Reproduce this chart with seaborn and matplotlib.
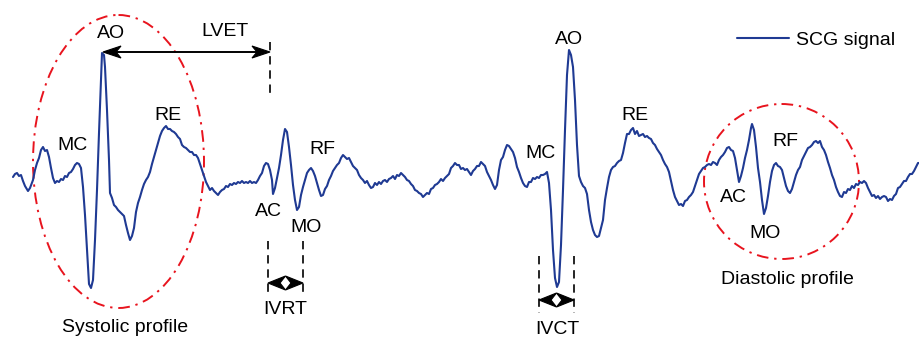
import numpy as np
import pandas as pd
import matplotlib
matplotlib.use("Agg")
import matplotlib.pyplot as plt
from matplotlib.patches import Ellipse, Polygon
import seaborn as sns

# SCG trace, horizontal position (sample) and vertical position (screen units, downward)
scg_x = [13, 15, 17, 19, 21, 23, 25, 28, 30, 33, 35, 37, 39, 41, 43, 45, 47, 49, 51, 53,
         55, 57, 59, 61, 63, 65, 67, 69, 71, 73, 75, 77, 79, 81, 83, 85, 87, 89, 91, 93,
         95, 97, 99, 101, 102, 104, 105, 107, 109, 110, 112, 114, 116, 118, 120, 122, 124, 126, 128, 130,
         132, 134, 136, 138, 140, 142, 144, 146, 148, 150, 152, 154, 156, 158, 160, 162, 164, 166, 168, 170,
         172, 174, 176, 178, 180, 182, 184, 186, 188, 190, 192, 194, 196, 198, 200, 202, 204, 206, 208, 210,
         212, 214, 216, 218, 220, 222, 224, 226, 228, 230, 232, 234, 236, 238, 240, 242, 244, 246, 248, 250,
         252, 254, 256, 258, 260, 262, 264, 266, 268, 270, 272, 273, 275, 277, 279, 281, 283, 285, 287, 289,
         291, 293, 295, 297, 299, 301, 303, 305, 307, 309, 311, 313, 315, 317, 319, 321, 323, 325, 327, 329,
         331, 333, 335, 337, 339, 341, 343, 345, 347, 349, 351, 353, 355, 357, 359, 361, 363, 365, 367, 369,
         371, 373, 375, 377, 379, 381, 383, 385, 387, 389, 391, 393, 395, 397, 399, 401, 403, 405, 407, 409,
         411, 413, 415, 417, 419, 421, 423, 425, 427, 429, 431, 433, 435, 437, 439, 441, 443, 445, 447, 449,
         451, 453, 455, 457, 459, 461, 463, 465, 467, 469, 471, 473, 475, 477, 479, 481, 483, 485, 487, 489,
         491, 493, 495, 497, 499, 501, 503, 505, 507, 509, 511, 513, 515, 517, 519, 521, 523, 525, 527, 529,
         531, 533, 535, 537, 539, 541, 543, 545, 547, 549, 551, 553, 555, 557, 559, 561, 563, 565, 567, 569,
         571, 573, 575, 577, 579, 581, 583, 585, 587, 589, 591, 593, 595, 597, 599, 601, 603, 605, 607, 609,
         611, 613, 615, 617, 619, 621, 623, 625, 627, 629, 631, 633, 635, 637, 639, 641, 643, 645, 647, 649,
         651, 653, 655, 657, 659, 661, 663, 665, 667, 669, 671, 673, 675, 677, 679, 681, 683, 685, 687, 689,
         691, 693, 695, 697, 699, 701, 703, 705, 707, 709, 711, 713, 715, 717, 719, 721, 723, 725, 727, 729,
         731, 733, 735, 737, 739, 741, 743, 745, 747, 749, 751, 752, 754, 756, 758, 760, 762, 764, 766, 768,
         770, 772, 774, 776, 778, 780, 782, 784, 786, 788, 790, 792, 794, 796, 798, 800, 802, 804, 806, 808,
         810, 812, 814, 816, 818, 820, 822, 824, 826, 828, 830, 832, 834, 836, 838, 840, 842, 844, 846, 848,
         850, 852, 854, 856, 858, 860, 862, 864, 866, 868, 870, 872, 874, 876, 878, 880, 882, 884, 886, 888,
         890, 892, 894, 896, 898, 900, 902, 904, 906, 908, 910, 912, 914, 916, 918, 920]
scg_y = [177, 174, 173, 176, 175, 181, 186, 191, 188, 180, 170, 163, 158, 150, 147, 151, 150, 157, 168, 178,
         183, 181, 182, 179, 180, 176, 177, 173, 172, 169, 165, 163, 164, 168, 187, 215, 250, 284, 288, 280,
         240, 190, 133, 80, 53, 55, 67, 110, 160, 193, 198, 205, 207, 210, 212, 214, 216, 225, 233, 240,
         236, 228, 212, 203, 197, 190, 184, 180, 177, 172, 164, 157, 150, 143, 136, 131, 128, 126, 129, 129,
         131, 132, 134, 137, 139, 145, 147, 148, 150, 152, 152, 155, 155, 158, 164, 170, 176, 182, 186, 190,
         188, 191, 193, 195, 192, 190, 189, 186, 187, 184, 185, 183, 184, 182, 183, 181, 183, 182, 183, 181,
         183, 182, 183, 180, 176, 173, 166, 163, 164, 170, 180, 194, 188, 178, 168, 155, 140, 129, 132, 147,
         165, 185, 200, 210, 207, 195, 187, 180, 173, 170, 168, 171, 176, 183, 190, 196, 195, 189, 186, 180,
         176, 171, 168, 165, 163, 158, 155, 157, 159, 158, 162, 166, 168, 170, 175, 178, 180, 183, 181, 185,
         188, 187, 183, 185, 182, 184, 181, 180, 182, 179, 178, 176, 179, 175, 176, 173, 175, 177, 180, 181,
         184, 186, 190, 191, 193, 194, 197, 195, 193, 194, 189, 188, 185, 184, 182, 179, 181, 178, 176, 174,
         168, 166, 163, 165, 165, 169, 168, 170, 169, 172, 175, 171, 169, 166, 166, 162, 164, 166, 172, 176,
         180, 185, 189, 185, 170, 160, 157, 150, 145, 146, 149, 152, 158, 167, 172, 178, 183, 186, 187, 182,
         182, 178, 179, 177, 178, 175, 175, 174, 172, 183, 210, 250, 278, 287, 282, 245, 190, 130, 75, 50,
         55, 67, 100, 145, 176, 182, 186, 188, 194, 210, 222, 230, 235, 237, 236, 228, 220, 200, 188, 177,
         170, 167, 166, 163, 161, 160, 153, 143, 134, 134, 130, 128, 134, 131, 136, 135, 134, 137, 136, 138,
         139, 143, 145, 149, 152, 155, 160, 164, 167, 172, 181, 190, 197, 201, 205, 204, 206, 201, 200, 197,
         195, 192, 186, 180, 174, 171, 168, 167, 165, 164, 165, 162, 163, 165, 160, 157, 155, 152, 148, 147,
         150, 151, 158, 170, 182, 176, 168, 158, 150, 140, 128, 124, 130, 147, 168, 182, 200, 214, 208, 196,
         182, 171, 165, 163, 166, 167, 170, 178, 186, 191, 193, 189, 182, 175, 170, 167, 160, 156, 152, 148,
         147, 145, 142, 141, 143, 141, 147, 150, 155, 162, 168, 175, 180, 187, 192, 196, 197, 192, 193, 189,
         190, 186, 188, 184, 185, 182, 183, 181, 183, 188, 192, 196, 195, 198, 196, 199, 197, 196, 197, 201,
         199, 200, 196, 194, 188, 187, 184, 181, 181, 177, 174, 174, 171, 167, 163, 163]

# Fiducial point labels (text, x, y)
label_text = ["AO", "MC", "RE", "AC", "MO", "RF", "MC", "AO", "RE", "AC", "MO", "RF"]
label_x = [111, 73, 168, 268, 306, 322, 541, 569, 635, 733, 765, 785]
label_y = [33, 145, 116, 211, 227, 150, 154, 40, 116, 197, 233, 142]

LINE_COLOR = "#1f3a93"
RED = "#e8141e"

sns.set_theme(style="white")
plt.rcParams["font.family"] = ["Liberation Sans", "DejaVu Sans"]
plt.rcParams["text.color"] = "black"

fig = plt.figure(figsize=(9.2, 3.38), dpi=100)
ax = fig.add_axes([0, 0, 1, 1])

df = pd.DataFrame({"t": scg_x, "v": scg_y})
sns.lineplot(data=df, x="t", y="v", ax=ax, sort=False, estimator=None,
             color=LINE_COLOR, linewidth=1.5, label="SCG signal")

ax.set_xlim(0, 920)
ax.set_ylim(338, 0)
ax.set_axis_off()

FS = 14

for t, x, y in zip(label_text, label_x, label_y):
    ax.text(x, y, t, fontsize=FS, ha="center", va="center", color="black")

# Profile outlines
DASHDOT = (0, (6, 3, 1.2, 3))
ax.add_patch(Ellipse((118.5, 161.5), 171, 293, fill=False, edgecolor=RED,
                     linestyle=DASHDOT, linewidth=1.4))
ax.add_patch(Ellipse((781.5, 181.5), 155, 155, fill=False, edgecolor=RED,
                     linestyle=DASHDOT, linewidth=1.4))
ax.text(125.5, 327, "Systolic profile", fontsize=FS, ha="center", va="center")
ax.text(787, 280, "Diastolic profile", fontsize=FS, ha="center", va="center")


def arrow_head(tip_x, tip_y, direction, length, half_w, notch):
    pts = [(tip_x, tip_y),
           (tip_x - direction * length, tip_y - half_w),
           (tip_x - direction * (length - notch), tip_y),
           (tip_x - direction * length, tip_y + half_w)]
    ax.add_patch(Polygon(pts, closed=True, facecolor="black", edgecolor="black",
                         linewidth=0.8, zorder=4))


DASH = (0, (5, 3.5))

# LVET: shaft with two heads
ax.plot([106, 266], [52, 52], color="black", linewidth=1.4, zorder=3)
arrow_head(103, 52, -1, 18, 6, 5)
arrow_head(270, 52, 1, 18, 6, 5)
ax.plot([270, 270], [42, 98], color="black", linewidth=1.2, linestyle=DASH)
ax.text(225, 32, "LVET", fontsize=FS, ha="center", va="center")

# IVRT: two heads meeting in the middle
arrow_head(268, 283, -1, 17.5, 7, 5.5)
arrow_head(303, 283, 1, 17.5, 7, 5.5)
ax.plot([268, 268], [241, 294], color="black", linewidth=1.2, linestyle=DASH)
ax.plot([303, 303], [241, 294], color="black", linewidth=1.2, linestyle=DASH)
ax.text(285, 310, "IVRT", fontsize=FS, ha="center", va="center")

# IVCT
arrow_head(539, 300, -1, 17.5, 7, 5.5)
arrow_head(574, 300, 1, 17.5, 7, 5.5)
ax.plot([539, 539], [256, 313], color="black", linewidth=1.2, linestyle=DASH)
ax.plot([574, 574], [256, 313], color="black", linewidth=1.2, linestyle=DASH)
ax.text(557, 330, "IVCT", fontsize=FS, ha="center", va="center")

ax.legend(loc="center left", bbox_to_anchor=(737 / 920, 1 - 40 / 338),
          frameon=False, fontsize=FS, handlelength=2.65, handletextpad=0.36,
          borderpad=0, borderaxespad=0, labelcolor="black")

fig.savefig("out.png", dpi=100)
